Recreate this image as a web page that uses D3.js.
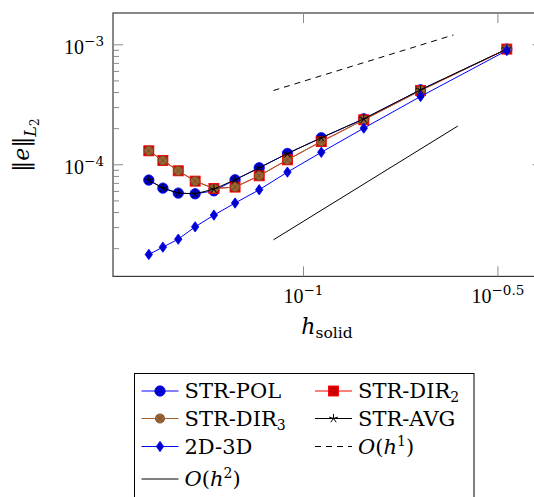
<!DOCTYPE html>
<html>
<head>
<meta charset="utf-8">
<script src="https://cdn.jsdelivr.net/npm/d3@7"></script>
<style>
  body { margin: 0; background: #fff; }
  svg { display: block; }
</style>
</head>
<body>
<svg id="chart" width="534" height="497" font-family="'DejaVu Serif', serif"></svg>
<script>
// Mesh sizes (h = 1/n for odd n from 25 down to 3)
const hSolid = [0.04, 0.04348, 0.04762, 0.05263, 0.05882, 0.06667, 0.07692, 0.09091, 0.1111, 0.1429, 0.2, 0.3333];

// L2 error per method
const strPol = [7.46e-5, 6.39e-5, 5.81e-5, 5.73e-5, 6.07e-5, 7.5e-5, 9.44e-5, 1.242e-4, 1.679e-4, 2.416e-4, 4.217e-4, 9.21e-4];
const strDir2 = [1.308e-4, 1.086e-4, 8.91e-5, 7.31e-5, 6.34e-5, 6.52e-5, 8.10e-5, 1.10e-4, 1.563e-4, 2.371e-4, 4.16e-4, 9.21e-4];
const strDir3 = [1.308e-4, 1.086e-4, 8.91e-5, 7.31e-5, 6.34e-5, 6.52e-5, 8.10e-5, 1.10e-4, 1.563e-4, 2.371e-4, 4.16e-4, 9.21e-4];
const strAvg = [7.46e-5, 6.39e-5, 5.81e-5, 5.73e-5, 6.27e-5, 7.5e-5, 9.44e-5, 1.242e-4, 1.679e-4, 2.416e-4, 4.217e-4, 9.21e-4];
const twoDThreeD = [1.79e-5, 2.06e-5, 2.40e-5, 3.04e-5, 3.81e-5, 4.80e-5, 6.19e-5, 8.69e-5, 1.271e-4, 2.02e-4, 3.71e-4, 8.96e-4];

// Reference slopes
const orderOneH = [0.0837, 0.243];
const orderOneErr = [4.16e-4, 1.208e-3];
const orderTwoH = [0.0837, 0.2494];
const orderTwoErr = [2.37e-5, 2.104e-4];

// Tick exponents and their labels
const xTickExps = [-1, -0.5];
const xTickLabels = ["\u22121", "\u22120.5"];
const yTickExps = [-4, -3];
const yTickLabels = ["\u22124", "\u22123"];

const svg = d3.select("#chart");
const plot = { left: 113, top: 13, width: 429.6, height: 263.4 };
const romanFont = "'Liberation Serif', serif";

// Log scales padded by 10% of the log span on each side
function paddedLogDomain(vals) {
  const lo = Math.log10(d3.min(vals)), hi = Math.log10(d3.max(vals));
  const pad = (hi - lo) * 0.1;
  return [Math.pow(10, lo - pad), Math.pow(10, hi + pad)];
}
const allH = hSolid.concat(orderOneH, orderTwoH);
const allErr = strPol.concat(strDir2, strDir3, strAvg, twoDThreeD, orderOneErr, orderTwoErr);
const x = d3.scaleLog().domain(paddedLogDomain(allH)).range([plot.left, plot.left + plot.width]);
const y = d3.scaleLog().domain(paddedLogDomain(allErr)).range([plot.top + plot.height, plot.top]);

const x0 = plot.left, x1 = plot.left + plot.width, y0 = plot.top + plot.height, y1 = plot.top;

// Frame
svg.append("rect")
  .attr("x", x0).attr("y", y1).attr("width", plot.width).attr("height", plot.height)
  .attr("fill", "none").attr("stroke", "#3a3a3a").attr("stroke-width", 1.2);

// Ticks (inward, on all four sides)
const tickG = svg.append("g").attr("stroke", "#8a8a8a").attr("stroke-width", 1);
const [yLo, yHi] = y.domain();
const yMinor = y.ticks().filter(v => v > yLo && v < yHi && Math.abs(Math.log10(v) - Math.round(Math.log10(v))) > 1e-6);
yMinor.forEach(v => {
  tickG.append("line").attr("x1", x0).attr("x2", x0 + 6).attr("y1", y(v)).attr("y2", y(v));
  tickG.append("line").attr("x1", x1).attr("x2", x1 - 6).attr("y1", y(v)).attr("y2", y(v));
});
yTickExps.forEach(e => {
  const v = Math.pow(10, e);
  tickG.append("line").attr("x1", x0).attr("x2", x0 + 10).attr("y1", y(v)).attr("y2", y(v));
  tickG.append("line").attr("x1", x1).attr("x2", x1 - 10).attr("y1", y(v)).attr("y2", y(v));
});
xTickExps.forEach(e => {
  const v = Math.pow(10, e);
  tickG.append("line").attr("x1", x(v)).attr("x2", x(v)).attr("y1", y0).attr("y2", y0 - 10);
  tickG.append("line").attr("x1", x(v)).attr("x2", x(v)).attr("y1", y1).attr("y2", y1 + 10);
});

// Tick labels as 10^e
function powerLabel(sel, exp) {
  sel.append("tspan").attr("font-family", romanFont).attr("font-size", 20).text("10");
  sel.append("tspan").attr("font-size", 13.5).attr("dy", -8).text(exp);
}
yTickExps.forEach((e, i) => {
  const t = svg.append("text").attr("x", 104).attr("y", y(Math.pow(10, e)) + 9).attr("text-anchor", "end");
  powerLabel(t, yTickLabels[i]);
});
xTickExps.forEach((e, i) => {
  const t = svg.append("text").attr("x", x(Math.pow(10, e))).attr("y", 302.5).attr("text-anchor", "middle");
  powerLabel(t, xTickLabels[i]);
});

// Axis titles
const xt = svg.append("text").attr("x", 327).attr("y", 334).attr("text-anchor", "middle");
xt.append("tspan").attr("font-size", 22).attr("font-style", "italic").text("h");
xt.append("tspan").attr("font-size", 15.5).attr("dy", 4).text("solid");

const yt = svg.append("text").attr("transform", "translate(29,145) rotate(-90)").attr("text-anchor", "middle");
yt.append("tspan").attr("font-size", 22).text("\u2016");
yt.append("tspan").attr("font-size", 22).attr("font-style", "italic").text("e");
yt.append("tspan").attr("font-size", 22).text("\u2016");
yt.append("tspan").attr("font-size", 16).attr("font-style", "italic").attr("dy", 7).text("L");
yt.append("tspan").attr("font-size", 12).attr("dy", 3).text("2");

// Marker painters
const markers = {
  circle(g, s) {
    g.append("circle").attr("r", 5.2).attr("fill", s.fill).attr("stroke", s.color).attr("stroke-width", 0.8);
  },
  square(g, s) {
    g.append("rect").attr("x", -5).attr("y", -5).attr("width", 10).attr("height", 10)
      .attr("fill", s.fill).attr("stroke", s.color).attr("stroke-width", 0.9);
  },
  otimes(g, s) {
    const r = 4.6, d = r * Math.SQRT1_2;
    g.append("circle").attr("r", r).attr("fill", s.fill).attr("stroke", s.markStroke).attr("stroke-width", 0.7);
    g.append("path").attr("d", `M${-d},${-d}L${d},${d}M${-d},${d}L${d},${-d}`)
      .attr("stroke", s.markStroke).attr("stroke-width", 0.7).attr("fill", "none");
  },
  star(g, s) {
    const r = 4.6;
    const p = d3.range(5).map(k => {
      const a = -Math.PI / 2 + k * 2 * Math.PI / 5;
      return `M0,0L${r * Math.cos(a)},${r * Math.sin(a)}`;
    }).join("");
    g.append("path").attr("d", p).attr("stroke", s.color).attr("stroke-width", 1).attr("fill", "none");
  },
  diamond(g, s) {
    g.append("path").attr("d", "M0,-5.2L3.7,0L0,5.2L-3.7,0Z")
      .attr("fill", s.fill).attr("stroke", s.color).attr("stroke-width", 0.8);
  }
};

const series = [
  { name: "STR-POL", values: strPol, color: "#0000ff", fill: "#0000cc", mark: "circle" },
  { name: "STR-DIR", sub: "2", values: strDir2, color: "#ff0000", fill: "#cc0000", mark: "square" },
  { name: "STR-DIR", sub: "3", values: strDir3, color: "#a0612f", fill: "#996633", markStroke: "#6e4522", mark: "otimes" },
  { name: "STR-AVG", values: strAvg, color: "#000000", mark: "star" },
  { name: "2D-3D", values: twoDThreeD, color: "#0000ff", fill: "#0000cc", mark: "diamond" }
];
const refs = [
  { order: "1", h: orderOneH, err: orderOneErr, dash: "6,5" },
  { order: "2", h: orderTwoH, err: orderTwoErr, dash: null }
];

const line = d3.line().x(d => x(d[0])).y(d => y(d[1]));

series.forEach(s => {
  const pts = hSolid.map((h, i) => [h, s.values[i]]);
  svg.append("path").attr("d", line(pts)).attr("fill", "none")
    .attr("stroke", s.color).attr("stroke-width", 1);
  pts.forEach(p => {
    const g = svg.append("g").attr("transform", `translate(${x(p[0])},${y(p[1])})`);
    markers[s.mark](g, s);
  });
});

refs.forEach(r => {
  const pts = r.h.map((h, i) => [h, r.err[i]]);
  svg.append("path").attr("d", line(pts)).attr("fill", "none")
    .attr("stroke", "#000").attr("stroke-width", 1)
    .attr("stroke-dasharray", r.dash);
});

// Legend (two columns, row-major)
const legend = svg.append("g");
legend.append("rect").attr("x", 134.5).attr("y", 373.5).attr("width", 339.5).attr("height", 150)
  .attr("fill", "#fff").attr("stroke", "#000").attr("stroke-width", 1);

const legendItems = [
  { s: series[0] }, { s: series[1] },
  { s: series[2] }, { s: series[3] },
  { s: series[4] }, { r: refs[0] },
  { r: refs[1] }
];
const rowY = [391, 418.5, 446.5, 479];
const colX = [141.5, 315];

legendItems.forEach((item, i) => {
  const cx = colX[i % 2], cy = rowY[Math.floor(i / 2)];
  const color = item.s ? item.s.color : "#000";
  legend.append("line").attr("x1", cx).attr("x2", cx + 37).attr("y1", cy).attr("y2", cy)
    .attr("stroke", color).attr("stroke-width", 1)
    .attr("stroke-dasharray", item.r ? item.r.dash : null);
  if (item.s) {
    const g = legend.append("g").attr("transform", `translate(${cx + 18.5},${cy})`);
    markers[item.s.mark](g, item.s);
  }
  const t = legend.append("text").attr("x", cx + 43).attr("y", cy + 7).attr("font-size", 21);
  if (item.s) {
    t.append("tspan").text(item.s.name);
    if (item.s.sub) t.append("tspan").attr("font-size", 14).attr("dy", 4).text(item.s.sub);
  } else {
    t.append("tspan").attr("font-style", "italic").text("O");
    t.append("tspan").text("(");
    t.append("tspan").attr("font-style", "italic").text("h");
    t.append("tspan").attr("font-size", 14).attr("dy", -8).text(item.r.order);
    t.append("tspan").attr("dy", 8).text(")");
  }
});
</script>
</body>
</html>
